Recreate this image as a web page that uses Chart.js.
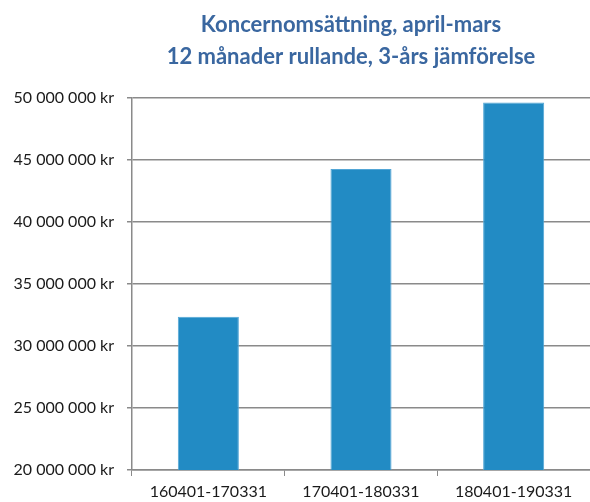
<!DOCTYPE html>
<html>
<head>
<meta charset="utf-8">
<script src="https://cdn.jsdelivr.net/npm/chart.js@4.4.1/dist/chart.umd.min.js"></script>
<style>
html,body{margin:0;padding:0;background:#fff;}
#wrap{width:590px;height:502px;position:relative;}
</style>
</head>
<body>
<div id="wrap"><canvas id="c" width="590" height="502"></canvas></div>
<script>
const titleLines = ["Koncernomsättning, april-mars", "12 månader rullande, 3-års jämförelse"];
const categories = ["160401-170331", "170401-180331", "180401-190331"];
const revenue = [32350000, 44280000, 49640000];
const yMin = 20000000;
const yMax = 50000000;
const yStep = 5000000;

function fmtKr(v) {
  return String(Math.round(v)).replace(/\B(?=(\d{3})+(?!\d))/g, " ") + " kr";
}

const titlePlugin = {
  id: "twoLineTitle",
  afterDraw(chart) {
    const ctx = chart.ctx;
    ctx.save();
    ctx.fillStyle = "#3A67A0";
    ctx.font = "bold 22px Lato";
    ctx.textAlign = "center";
    ctx.textBaseline = "middle";
    const cx = 351;
    titleLines.forEach((t, i) => ctx.fillText(t, cx, 25 + i * 32));
    ctx.restore();
  }
};

new Chart(document.getElementById("c"), {
  type: "bar",
  data: {
    labels: categories,
    datasets: [{
      data: revenue,
      backgroundColor: "#228BC4",
      borderColor: "#52A6D6",
      borderWidth: 1,
      barPercentage: 0.4,
      categoryPercentage: 1.0
    }]
  },
  plugins: [titlePlugin],
  options: {
    responsive: false,
    animation: false,
    layout: { padding: { left: 0, right: 0, top: 98, bottom: 0 } },
    plugins: {
      legend: { display: false },
      tooltip: { enabled: false },
      title: { display: false }
    },
    scales: {
      x: {
        grid: {
          display: true,
          drawOnChartArea: false,
          drawTicks: true,
          tickLength: 6,
          color: "#8a8a8a",
          offset: true
        },
        border: { display: true, color: "#8a8a8a", width: 1.5 },
        ticks: {
          color: "#1a1a1a",
          font: { family: "Lato", size: 16 },
          padding: 6,
          maxRotation: 0
        },
        afterFit: function(s) { s.height = 32; }
      },
      y: {
        min: yMin,
        max: yMax,
        grid: {
          color: "#8a8a8a",
          lineWidth: 1.5,
          tickLength: 5,
          drawTicks: true
        },
        border: { display: true, color: "#8a8a8a", width: 1.5 },
        ticks: {
          stepSize: yStep,
          color: "#1a1a1a",
          font: { family: "Lato", size: 16 },
          padding: 13,
          callback: function(v) { return fmtKr(v); }
        },
        afterFit: function(s) { s.width = 132; }
      }
    }
  }
});
</script>
</body>
</html>
